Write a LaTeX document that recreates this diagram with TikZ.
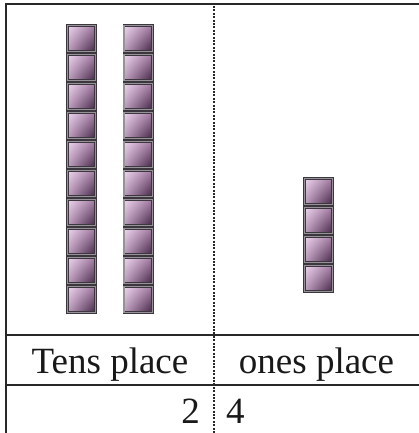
\documentclass[tikz,border=0pt]{standalone}
\usepackage{fontspec}
\setmainfont{Liberation Serif}
\usetikzlibrary{shadings}
\definecolor{cubelight}{RGB}{238,214,238}
\definecolor{cubemid}{RGB}{165,125,165}
\definecolor{cubedark}{RGB}{62,34,64}
\definecolor{cubeframe}{RGB}{60,55,62}
\definecolor{cubeedge}{RGB}{150,146,152}
\definecolor{rule}{RGB}{40,40,40}
\tikzset{
  cubebox/.style={draw=cubeframe,line width=0.7pt,double=cubeedge,double distance=1.3pt,inner sep=0pt,
    minimum width=28.3pt,minimum height=26.3pt,
    upper left=cubelight,upper right=cubemid,lower left=cubemid!70!cubelight,lower right=cubedark},
  rulebar/.style={draw=rule,line width=2.2pt},
  divider/.style={draw=rule,line width=2pt,dash pattern=on 2pt off 1.4pt},
  label/.style={inner sep=0pt,font=\fontsize{37}{40}\selectfont,text=black!90}
}
\begin{document}
\begin{tikzpicture}[x=1pt,y=-1pt]
\useasboundingbox (0,0) rectangle (419,433);
\fill[white] (0,0) rectangle (419,433);
\coordinate (TL) at (6,4);
\coordinate (TR) at (419,4);
\coordinate (BL) at (6,433);
\coordinate (ML) at (6,335);
\coordinate (MR) at (419,335);
\coordinate (LL) at (6,385);
\coordinate (LR) at (419,385);
\coordinate (DT) at (214,6);
\coordinate (DB) at (214,433);
\foreach \i in {0,...,9}{
  \node[cubebox] (ta\i) at (81.5,38.5+29*\i) {};
  \node[cubebox] (tb\i) at (138,38.5+29*\i) {};
}
\foreach \i in {0,...,3}{
  \node[cubebox] (o\i) at (318.5,191.5+29*\i) {};
}
\draw[rulebar] (TR) -- (TL) -- (BL);
\draw[rulebar] (ML) -- (MR);
\draw[rulebar] (LL) -- (LR);
\draw[divider] (DT) -- (DB);
\node[label,anchor=base] (tens) at (110,373) {Tens place};
\node[label,anchor=base] (ones) at (316.5,373) {ones place};
\node[label,anchor=base east] (two) at (200,423) {2};
\node[label,anchor=base west] (four) at (226,423) {4};
\end{tikzpicture}
\end{document}
